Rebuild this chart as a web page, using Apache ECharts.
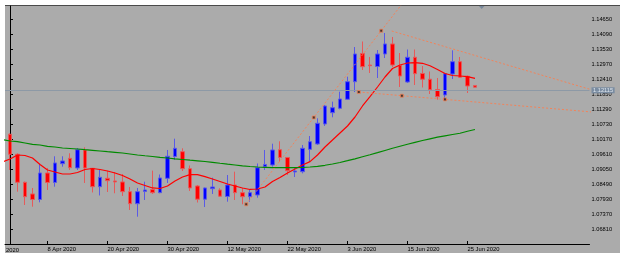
<!DOCTYPE html>
<html><head><meta charset="utf-8">
<script src="https://cdn.jsdelivr.net/npm/echarts@6/dist/echarts.min.js"></script>
<style>
html,body{margin:0;padding:0;background:#ffffff;}
#wrap{position:relative;width:625px;height:258px;background:#ffffff;}
#panel{position:absolute;left:5px;top:5px;width:615px;height:248px;background:#ababab;border-top:1px solid #4a4a4a;box-sizing:border-box;}
#c{position:absolute;left:0;top:0;width:625px;height:258px;}
</style>
</head><body>
<div id="wrap"><div id="panel"></div><div id="c"></div></div>
<script>
// ---- data (EURUSD daily) ----
const dates = ['1 Apr 2020','2 Apr 2020','3 Apr 2020','6 Apr 2020','7 Apr 2020','8 Apr 2020','9 Apr 2020','10 Apr 2020','13 Apr 2020','14 Apr 2020','15 Apr 2020','16 Apr 2020','17 Apr 2020','20 Apr 2020','21 Apr 2020','22 Apr 2020','23 Apr 2020','24 Apr 2020','27 Apr 2020','28 Apr 2020','29 Apr 2020','30 Apr 2020',
'1 May 2020','4 May 2020','5 May 2020','6 May 2020','7 May 2020','8 May 2020','11 May 2020','12 May 2020','13 May 2020','14 May 2020','15 May 2020','18 May 2020','19 May 2020','20 May 2020','21 May 2020','22 May 2020','25 May 2020','26 May 2020','27 May 2020','28 May 2020','29 May 2020',
'1 Jun 2020','2 Jun 2020','3 Jun 2020','4 Jun 2020','5 Jun 2020','8 Jun 2020','9 Jun 2020','10 Jun 2020','11 Jun 2020','12 Jun 2020','15 Jun 2020','16 Jun 2020','17 Jun 2020','18 Jun 2020','19 Jun 2020','22 Jun 2020','23 Jun 2020','24 Jun 2020','25 Jun 2020','26 Jun 2020'];
const open  = [1.10358,1.09611,1.08565,1.08129,1.07923,1.08912,1.08558,1.09260,1.09461,1.09099,1.09771,1.09088,1.08401,1.08714,1.08614,1.08577,1.08215,1.07766,1.08222,1.08297,1.08178,1.08714,
1.09529,1.09708,1.09073,1.08427,1.07934,1.08327,1.08278,1.08036,1.08464,1.08178,1.08028,1.08091,1.09144,1.09211,1.09782,1.09491,1.08949,1.08961,1.09796,1.09995,1.10742,
1.11164,1.11327,1.11664,1.12321,1.13374,1.12944,1.12888,1.13355,1.13729,1.12925,1.12309,1.13232,1.12627,1.12414,1.12030,1.11824,1.12608,1.13068,1.12523,1.12179];
const high  = [1.10395,1.09648,1.08595,1.08352,1.09249,1.09099,1.09536,1.09536,1.09648,1.09845,1.09872,1.09099,1.09024,1.08994,1.08949,1.08875,1.08390,1.08353,1.08588,1.09000,1.08856,1.09771,
1.10193,1.09834,1.09193,1.08464,1.08370,1.08737,1.08341,1.08837,1.08961,1.08353,1.08315,1.09267,1.09771,1.10006,1.10095,1.09509,1.09118,1.09958,1.10293,1.10954,1.11451,
1.11575,1.11948,1.12507,1.13616,1.13822,1.13243,1.13504,1.14139,1.13990,1.13392,1.13523,1.13523,1.12907,1.12702,1.12459,1.12640,1.13493,1.13243,1.12552,1.12198];
const low   = [1.09024,1.08215,1.07717,1.07654,1.07818,1.08278,1.08401,1.09148,1.09024,1.09024,1.08539,1.08185,1.08073,1.08203,1.08155,1.08054,1.07531,1.07281,1.07904,1.08129,1.08155,1.08539,
1.09398,1.08987,1.08241,1.07811,1.07643,1.08129,1.08017,1.07841,1.07904,1.07744,1.07841,1.07990,1.09024,1.09148,1.09335,1.08837,1.08763,1.08899,1.09335,1.09958,1.10667,
1.10992,1.11290,1.11638,1.11936,1.12758,1.12646,1.12459,1.13206,1.12869,1.12123,1.12272,1.12197,1.12104,1.11862,1.11649,1.11657,1.12421,1.12459,1.11899,1.12104];
const close = [1.09611,1.08565,1.08028,1.07923,1.08912,1.08558,1.09286,1.09361,1.09111,1.09782,1.09099,1.08401,1.08752,1.08625,1.08577,1.08215,1.07766,1.08215,1.08278,1.08178,1.08726,1.09536,
1.09834,1.09073,1.08353,1.07934,1.08353,1.08390,1.08047,1.08464,1.08178,1.08028,1.08178,1.09110,1.09230,1.09771,1.09491,1.08998,1.08987,1.09834,1.10081,1.10768,1.11413,
1.11350,1.11675,1.12321,1.13355,1.12881,1.12918,1.13355,1.13729,1.12944,1.12534,1.13232,1.12620,1.12414,1.12022,1.11761,1.12619,1.13068,1.12485,1.12160,1.12115];
// moving averages, first value is 31 Mar 2020 (one bar before dates[0])
const maFast = [1.09323,1.09434,1.09584,1.09566,1.09472,1.09230,1.09024,1.08949,1.08875,1.08875,1.08931,1.09043,1.09080,1.09043,1.08987,1.08912,1.08819,1.08688,1.08539,1.08446,1.08353,1.08334,1.08427,
1.08614,1.08763,1.08849,1.08849,1.08774,1.08688,1.08595,1.08502,1.08427,1.08353,1.08297,1.08315,1.08390,1.08595,1.08744,1.08912,1.09061,1.09211,1.09335,1.09584,1.09883,
1.10144,1.10406,1.10667,1.11003,1.11414,1.11761,1.12123,1.12496,1.12814,1.12944,1.13019,1.13030,1.13008,1.12915,1.12777,1.12627,1.12552,1.12534,1.12508,1.12448];
const maSlow = [1.10163,1.10107,1.10081,1.10032,1.09984,1.09958,1.09909,1.09883,1.09846,1.09827,1.09808,1.09782,1.09760,1.09734,1.09708,1.09685,1.09659,1.09622,1.09584,1.09555,1.09528,1.09498,1.09472,
1.09442,1.09416,1.09390,1.09368,1.09342,1.09312,1.09275,1.09241,1.09211,1.09181,1.09155,1.09136,1.09125,1.09114,1.09110,1.09110,1.09110,1.09118,1.09136,1.09162,1.09200,
1.09248,1.09304,1.09372,1.09442,1.09517,1.09592,1.09670,1.09753,1.09835,1.09909,1.09984,1.10055,1.10126,1.10189,1.10249,1.10301,1.10350,1.10395,1.10470,1.10536];
const bid = 1.12115;
// trend lines: [bar index, price] anchors
const trendUp    = [[31.5, 1.07744], [40.5, 1.10985], [49.5, 1.14225]];
const trendUpper = [[50.9, 1.14214], [77.33, 1.12037]];
const trendLower = [[46.5, 1.11936], [52.25, 1.11798], [58, 1.11660]];
const yTicks = [1.06810,1.07370,1.07930,1.08490,1.09050,1.09610,1.10170,1.10730,1.11290,1.11850,1.12410,1.12970,1.13530,1.14090,1.14650];
const xTickLabels = ['8 Apr 2020','20 Apr 2020','30 Apr 2020','12 May 2020','22 May 2020','3 Jun 2020','15 Jun 2020','25 Jun 2020'];
const clippedLabel = '2020'; // tail of "27 Mar 2020", cut by the chart edge

// ---- build ----
const FONT = 'Liberation Sans';
const xTickIdx = xTickLabels.map(l => dates.indexOf(l));
const candles = dates.map((d, i) => [i, open[i], close[i], low[i], high[i]]);
function ray(a, b, toX) {
  const s = (b[1] - a[1]) / (b[0] - a[0]);
  return [a, [toX, a[1] + s * (toX - a[0])]];
}
const lineStyleTrend = {color: '#f2835a', width: 1, type: [2, 2]};
const chart = echarts.init(document.getElementById('c'), null, {renderer: 'canvas'});
chart.setOption({
  animation: false,
  backgroundColor: 'transparent',
  textStyle: {fontFamily: FONT},
  grid: {left: 5, right: 35.5, top: 6, bottom: 14, containLabel: false},
  xAxis: {
    type: 'value', min: -0.667, max: 77.27,
    axisLine: {show: true, lineStyle: {color: '#000', width: 1}},
    splitLine: {show: false},
    axisTick: {show: true, customValues: xTickIdx, inside: true, length: 3, lineStyle: {color: '#000'}},
    axisLabel: {show: true, customValues: xTickIdx, formatter: v => dates[Math.round(v)] || '', align: 'left',
      fontSize: 5.8, color: '#000', margin: 2, fontFamily: FONT}
  },
  yAxis: {
    type: 'value', position: 'right', min: 1.06261, max: 1.15147,
    axisLine: {show: true, lineStyle: {color: '#000', width: 1}},
    splitLine: {show: false},
    axisTick: {show: true, customValues: yTicks, length: 3, lineStyle: {color: '#000'}},
    axisLabel: {show: true, customValues: yTicks, formatter: v => v.toFixed(5), fontSize: 5.7, color: '#000', margin: 2, fontFamily: FONT}
  },
  graphic: [
    {type: 'text', left: 6, top: 247, silent: true,
     style: {text: clippedLabel, font: '5.8px ' + FONT, fill: '#000'}},
    {type: 'polygon', silent: true, shape: {points: [[479, 6], [484.5, 6], [481.7, 9]]}, style: {fill: '#76879a'}}
  ],
  series: [
    {type: 'candlestick', data: candles, encode: {x: 0, y: [1, 2, 3, 4]}, barWidth: 4, z: 3,
     itemStyle: {color: '#0000ff', color0: '#ff0000', borderColor: '#5a5ae6', borderColor0: '#e65a5a', borderWidth: 1},
     markLine: {silent: true, symbol: 'none', animation: false,
       lineStyle: {color: '#8d99a6', width: 1, type: 'solid'},
       label: {show: true, position: 'end', distance: 2, formatter: () => bid.toFixed(5),
         backgroundColor: '#7a8ca1', color: '#dfe6ee', fontSize: 5.7, lineHeight: 6, verticalAlign: 'middle',
         padding: [0, 1.5, 0, 1.5], fontFamily: FONT},
       data: [{yAxis: bid}]}},
    {type: 'line', data: maFast.map((v, i) => [i - 1, v]), showSymbol: false, z: 4,
     lineStyle: {color: '#ff0000', width: 1.2}},
    {type: 'line', data: maSlow.map((v, i) => [i - 1, v]), showSymbol: false, z: 4,
     lineStyle: {color: '#008a00', width: 1.2}},
    {type: 'line', data: ray(trendUp[0], trendUp[2], 60), showSymbol: false, z: 5, lineStyle: lineStyleTrend},
    {type: 'line', data: ray(trendUpper[0], trendUpper[1], 80), showSymbol: false, z: 5, lineStyle: lineStyleTrend},
    {type: 'line', data: ray(trendLower[0], trendLower[2], 80), showSymbol: false, z: 5, lineStyle: lineStyleTrend},
    {type: 'scatter', data: trendUp.concat(trendLower), symbol: 'rect', symbolSize: 3, z: 6,
     itemStyle: {color: '#2a1a12', borderColor: '#f2835a', borderWidth: 1}}
  ]
});
</script>
</body></html>
